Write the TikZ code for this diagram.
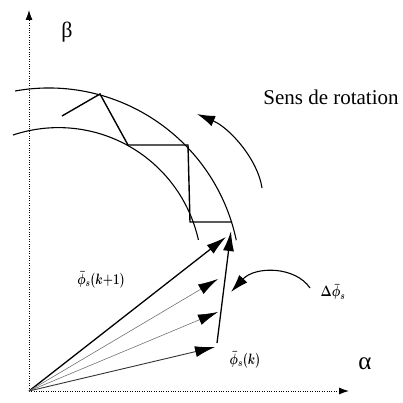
\RequirePackage{fix-cm}
\documentclass[tikz,border=0pt]{standalone}
\usepackage{fontspec}
\usepackage{graphicx}
\setmainfont{Liberation Serif}
\usetikzlibrary{arrows.meta}
\begin{document}
\begin{tikzpicture}[x=1pt,y=-1pt,
  axisline/.style={line width=1pt, dash pattern=on 1pt off 1.4pt, -{Latex[length=10pt,width=7pt]}},
  arcline/.style={line width=1.1pt},
  zig/.style={line width=1.4pt, line join=miter},
  vecbig/.style={line width=1.3pt, -{Latex[length=20pt,width=11pt]}},
  vecthin/.style={line width=0.6pt, draw=black!55, -{Latex[length=20pt,width=11pt,color=black]}},
  vecmid/.style={line width=0.9pt, draw=black!80, -{Latex[length=20pt,width=11pt,color=black]}},
  curvearrow/.style={line width=1.1pt, -{Latex[length=18pt,width=11pt]}},
  lab/.style={inner sep=0pt},
  mlab/.style={inner sep=0pt, font=\fontsize{15}{17}\selectfont\boldmath}]
\useasboundingbox (0,0) rectangle (403,403);
% axes
\coordinate (O) at (29,391);
\coordinate (ytip) at (29,10);
\coordinate (xtip) at (349,391);
\draw[axisline] (O) -- (ytip);
\draw[axisline] (O) -- (xtip);
% arcs
\draw[arcline] (48.7,279.7) ++(-100.1:191.7) arc[start angle=-100.1, end angle=-11.9, radius=191.7];
\draw[arcline] (58.5,270.9) ++(-108.5:143.3) arc[start angle=-108.5, end angle=-12.5, radius=143.3];
% zigzag
\coordinate (z0) at (62,116);
\coordinate (z1) at (100,94);
\coordinate (z2) at (128,145);
\coordinate (z3) at (188,145);
\coordinate (z4) at (190,222);
\coordinate (z5) at (232,222);
\draw[zig] (z0) -- (z1) -- (z2) -- (z3) -- (z4) -- (z5);
% vectors
\coordinate (p1) at (226,237);
\coordinate (p2) at (218,279);
\coordinate (p3) at (218,312);
\coordinate (p4) at (215,347);
\coordinate (d0) at (217,343);
\coordinate (d1) at (231,231);
\draw[vecbig] (O) -- (p1);
\draw[vecthin] (O) -- (p2);
\draw[vecthin] (O) -- (p3);
\draw[vecmid] (O) -- (p4);
\draw[vecbig] (d0) -- (d1);
% rotation arrow
\coordinate (r0) at (262,188);
\coordinate (r1) at (197,114);
\draw[curvearrow] (r0) .. controls (258,160) and (230,128) .. (r1);
% delta arrow
\coordinate (c0) at (310,288);
\coordinate (c1) at (231,292);
\draw[curvearrow] (c0) .. controls (295,266) and (255,266) .. (c1);
% labels
\node[lab, font=\fontsize{22}{24}\selectfont] (beta) at (67,32) {β};
\node[lab, font=\fontsize{25}{27}\selectfont] (alpha) at (365,364) {α};
\node[lab, font=\fontsize{21}{24}\selectfont] (sens) at (331,97) {Sens de rotation};
\node[mlab] (phik1) at (101,280) {\scalebox{0.78}[1]{$\bar{\phi}_s(k{+}1)$}};
\node[mlab] (phik) at (245,360) {\scalebox{0.78}[1]{$\bar{\phi}_s(k)$}};
\node[mlab] (dphi) at (333,292) {\scalebox{0.8}[1]{$\Delta\bar{\phi}_s$}};
\end{tikzpicture}
\end{document}
